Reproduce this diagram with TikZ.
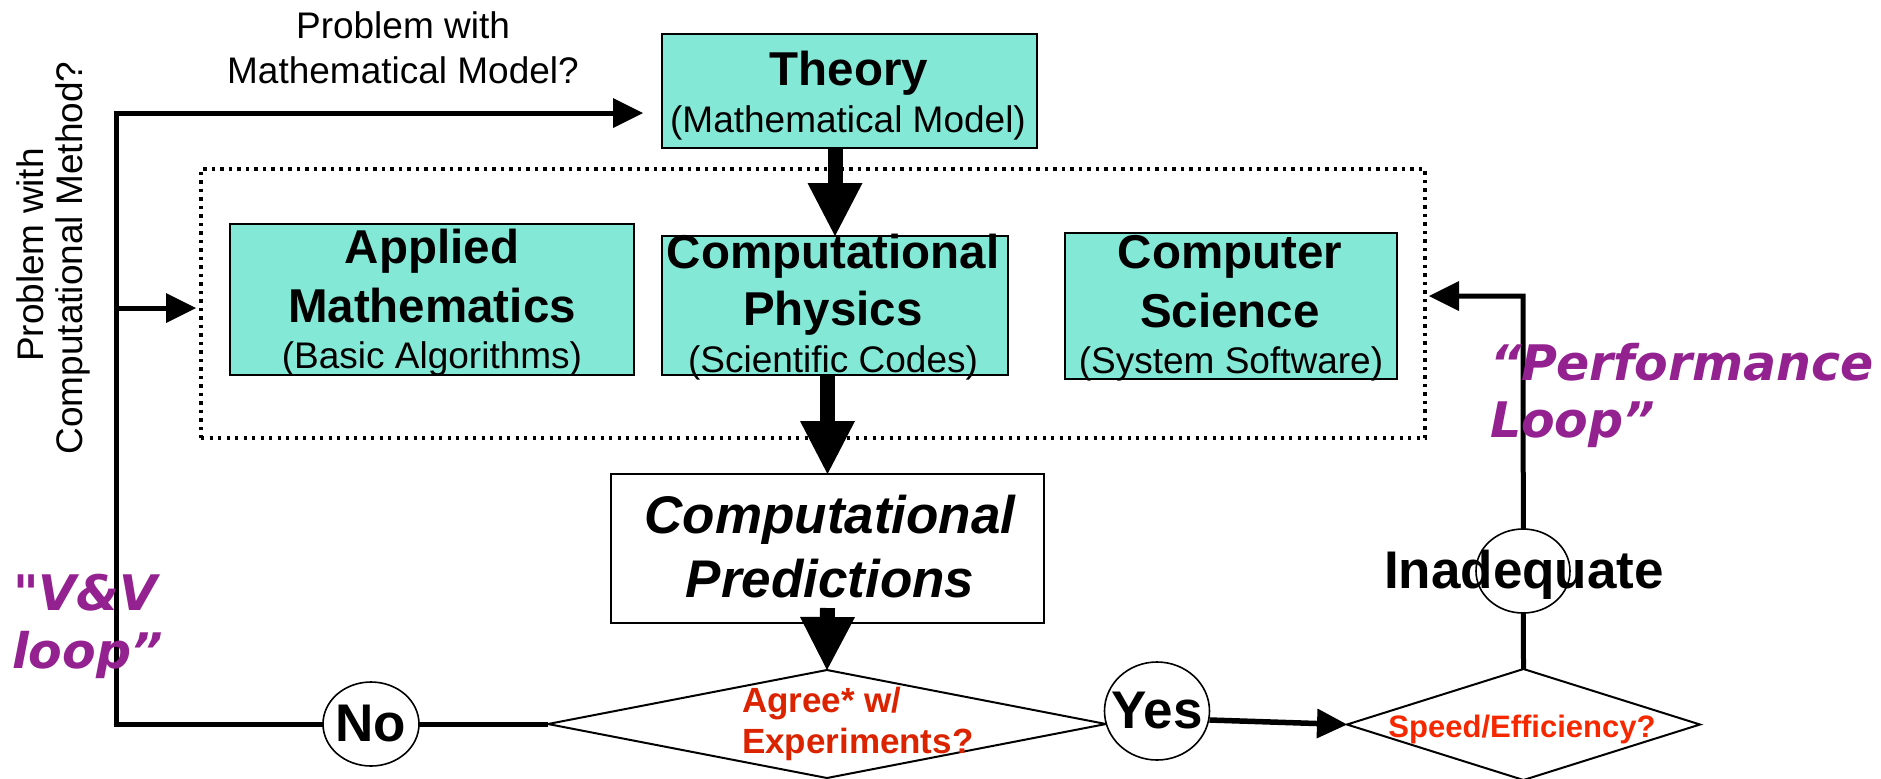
\documentclass[tikz,border=0pt]{standalone}
\usepackage{fontspec}
\setmainfont{Liberation Sans}
\newfontfamily\dejavu{DejaVu Sans}
\usetikzlibrary{arrows.meta,shapes.geometric}
\definecolor{boxteal}{RGB}{132,232,214}
\definecolor{looppurple}{RGB}{147,33,143}
\definecolor{agreered}{RGB}{220,35,0}
\definecolor{speedred}{RGB}{245,40,0}
\begin{document}
\begin{tikzpicture}[x=0.5pt,y=-0.5pt,
  box/.style={draw, line width=1pt, fill=boxteal, inner sep=0pt, outer sep=0pt},
  predbox/.style={draw, line width=1pt, fill=white, inner sep=0pt, outer sep=0pt},
  grpbox/.style={draw, line width=1.6pt, dash pattern=on 1.6pt off 2.65pt, inner sep=0pt, outer sep=0pt},
  decision/.style={diamond, draw, line width=1pt, fill=white, inner sep=0pt, outer sep=0pt},
  oval/.style={ellipse, draw, line width=0.8pt, fill=white, inner sep=0pt, outer sep=0pt},
  lbl/.style={inner sep=0pt, outer sep=0pt},
  head/.style={lbl, anchor=base, font=\fontsize{23.75}{28}\selectfont\bfseries},
  subt/.style={lbl, anchor=base, font=\fontsize{18.5}{22}\selectfont},
  pred/.style={lbl, anchor=base, font=\fontsize{26.5}{30}\selectfont\bfseries\itshape},
  purp/.style={lbl, anchor=base west, text=looppurple, font=\dejavu\fontsize{24.5}{28}\selectfont\bfseries\itshape},
  agree/.style={lbl, anchor=base west, text=agreered, font=\fontsize{17.5}{21}\selectfont\bfseries},
  speed/.style={lbl, anchor=base, text=speedred, font=\fontsize{15.5}{19}\selectfont\bfseries},
  big/.style={lbl, font=\fontsize{26.5}{30}\selectfont\bfseries},
  bigarrow/.style={line width=7.5pt, -{Triangle[width=27.5pt,length=26.5pt,line width=0pt]}},
  smalltip/.style={-{Triangle[width=15pt,length=15pt,line width=0pt]}},
  vvline/.style={line width=2.5pt},
  perfline/.style={line width=2.5pt},
  yesline/.style={line width=2.75pt}
]
\useasboundingbox (0,0) rectangle (1881,778);

% group box and boxes
\node[grpbox, minimum width=612pt, minimum height=134.5pt] (grp) at (813,303.5) {};
\node[box, minimum width=187.5pt, minimum height=57pt] (theory) at (849.5,91) {};
\node[box, minimum width=202pt, minimum height=75.5pt] (applied) at (432,299.5) {};
\node[box, minimum width=173pt, minimum height=69.5pt] (cphys) at (835,305.5) {};
\node[box, minimum width=166pt, minimum height=73pt] (csci) at (1231,306) {};
\node[predbox, minimum width=216.5pt, minimum height=74.5pt] (cpred) at (827.5,548.5) {};

% decisions
\node[decision, minimum width=279pt, minimum height=54pt] (d1) at (827,724) {};
\node[decision, minimum width=176.5pt, minimum height=55.5pt] (d2) at (1523.5,724.5) {};

% loop coordinates
\coordinate (vb) at (116,724);
\coordinate (vt) at (116,113);
\coordinate (vm) at (116,308);
\coordinate (tt) at (643,113);
\coordinate (mt) at (196,308);
\coordinate (pc) at (1523,296);
\coordinate (ptip) at (1429,296);

% V&V loop
\draw[vvline, smalltip] (d1.west) -- (vb) -- (vt) -- (tt);
\draw[vvline, smalltip] (vm) -- (mt);

% performance loop
\draw[perfline, smalltip] (d2.north) -- (pc) -- (ptip);

% ellipses
\node[oval, minimum width=48pt, minimum height=42pt] (no) at (371,724) {};
\node[oval, minimum width=52.5pt, minimum height=49pt] (yes) at (1157,711) {};
\node[oval, minimum width=47pt, minimum height=42pt] (inad) at (1523,571) {};

% yes arrow
\draw[yesline, smalltip] ([yshift=-4.5pt]yes.east) -- (d2.west);

% thick arrows
\draw[bigarrow] (cphys.north |- theory.south) -- (cphys.north);
\draw[bigarrow] (cpred.north |- cphys.south) -- (cpred.north);
\draw[bigarrow] ([yshift=7.5pt]cpred.south) -- (d1.north);

% texts
\node[head] (theoryA) at (849,85) {Theory};
\node[subt] (theoryB) at (848,132) {(Mathematical Model)};
\node[head] (amA) at (432,263) {Applied};
\node[head] (amB) at (432,322) {Mathematics};
\node[subt] (amC) at (432,368) {(Basic Algorithms)};
\node[head] (cpA) at (833,268) {Computational};
\node[head] (cpB) at (833,325) {Physics};
\node[subt] (cpC) at (833,372) {(Scientific Codes)};
\node[head] (csA) at (1230,268) {Computer};
\node[head] (csB) at (1230,327) {Science};
\node[subt] (csC) at (1231,373) {(System Software)};
\node[pred] (prA) at (830,533) {Computational};
\node[pred] (prB) at (830,597) {Predictions};
\node[subt] (qA) at (403,38) {Problem with};
\node[subt] (qB) at (403,83) {Mathematical Model?};
\node[subt, rotate=90] (rA) at (43,255) {Problem with};
\node[subt, rotate=90] (rB) at (83,258) {Computational Method?};
\node[purp] (vvA) at (13,610) {"V\&V};
\node[purp] (vvB) at (12,668) {loop”};
\node[purp] (pfA) at (1490,380) {“Performance};
\node[purp] (pfB) at (1490,437) {Loop”};
\node[agree] (agA) at (742,712) {Agree* w/};
\node[agree] (agB) at (742,753) {Experiments?};
\node[speed] (sp) at (1522,737) {Speed/Efficiency?};
\node[big] (notext) at (no.center) {No};
\node[big] (yestext) at (yes.center) {Yes};
\node[big, anchor=base] (inadtext) at (1524,588) {Inadequate};
\end{tikzpicture}
\end{document}
